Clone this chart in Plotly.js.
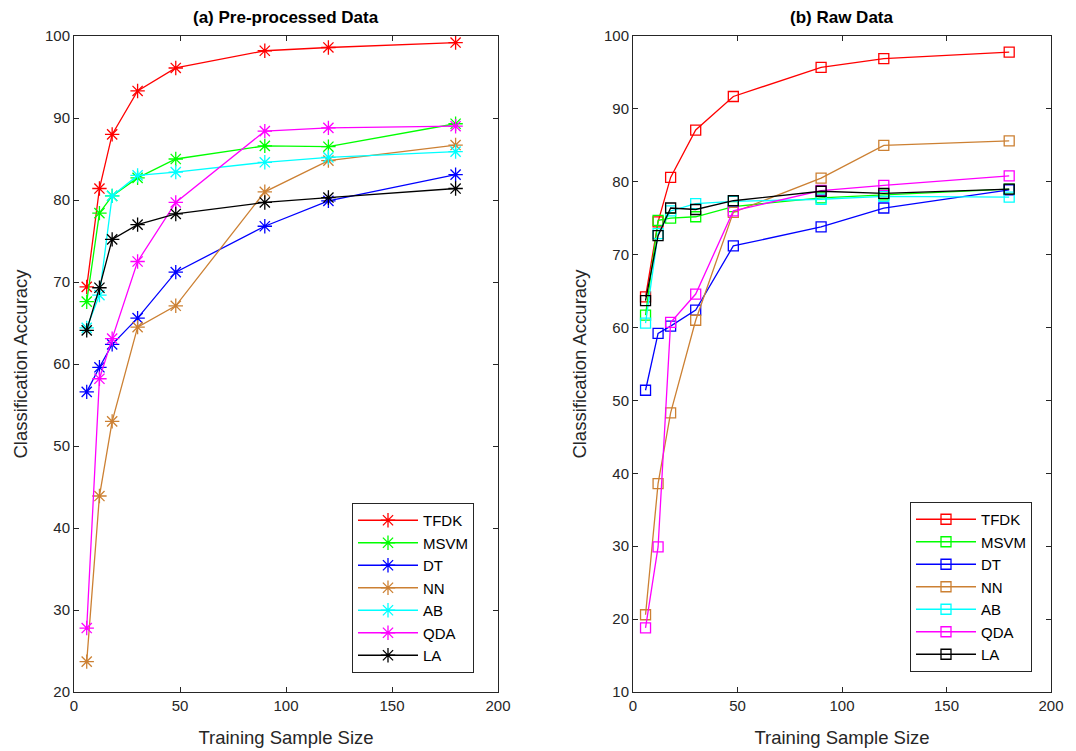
<!DOCTYPE html>
<html>
<head>
<meta charset="utf-8">
<script src="https://cdn.plot.ly/plotly-3.0.1.min.js"></script>
<style>html,body{margin:0;padding:0;background:#fff;}#chart{width:1076px;height:751px;}</style>
</head>
<body>
<div id="chart"></div>
<script>
const sampleSizes = [6, 12, 18, 30, 48, 90, 120, 180];
const methods = ['TFDK', 'MSVM', 'DT', 'NN', 'AB', 'QDA', 'LA'];
const colors = ['#ff0000', '#00ff00', '#0000ff', '#cc8033', '#00ffff', '#ff00ff', '#000000'];

// (a) Pre-processed data
const preTFDK = [69.4, 81.4, 88.0, 93.3, 96.1, 98.2, 98.6, 99.2];
const preMSVM = [67.6, 78.4, 80.5, 82.7, 85.0, 86.6, 86.5, 89.3];
const preDT   = [56.6, 59.6, 62.4, 65.6, 71.2, 76.8, 79.9, 83.1];
const preNN   = [23.7, 43.9, 53.0, 64.5, 67.1, 81.0, 84.8, 86.7];
const preAB   = [64.4, 68.4, 80.5, 83.0, 83.4, 84.6, 85.2, 85.9];
const preQDA  = [27.8, 58.2, 63.1, 72.5, 79.7, 88.4, 88.8, 89.0];
const preLA   = [64.1, 69.3, 75.2, 77.0, 78.3, 79.7, 80.3, 81.4];

// (b) Raw data
const rawTFDK = [64.2, 74.5, 80.6, 87.1, 91.7, 95.7, 96.9, 97.8];
const rawMSVM = [61.7, 74.7, 75.0, 75.2, 76.6, 77.8, 78.2, 79.0];
const rawDT   = [51.4, 59.2, 60.2, 62.4, 71.2, 73.8, 76.4, 78.9];
const rawNN   = [20.6, 38.6, 48.3, 61.0, 75.8, 80.5, 85.0, 85.6];
const rawAB   = [60.6, 72.9, 76.0, 77.0, 77.3, 77.6, 78.0, 77.9];
const rawQDA  = [18.8, 29.9, 60.7, 64.6, 76.0, 78.8, 79.5, 80.8];
const rawLA   = [63.7, 72.6, 76.4, 76.2, 77.4, 78.7, 78.4, 79.0];

const preSeries = [preTFDK, preMSVM, preDT, preNN, preAB, preQDA, preLA];
const rawSeries = [rawTFDK, rawMSVM, rawDT, rawNN, rawAB, rawQDA, rawLA];

const traces = [];
preSeries.forEach((ys, i) => {
  traces.push({
    x: sampleSizes, y: ys, name: methods[i], type: 'scatter', mode: 'lines+markers',
    xaxis: 'x', yaxis: 'y', legend: 'legend',
    line: {color: colors[i], width: 1.3},
    marker: {symbol: 'asterisk-open', size: 12, color: colors[i], line: {color: colors[i], width: 1.3}}
  });
});
rawSeries.forEach((ys, i) => {
  traces.push({
    x: sampleSizes, y: ys, name: methods[i], type: 'scatter', mode: 'lines+markers',
    xaxis: 'x2', yaxis: 'y2', legend: 'legend2',
    line: {color: colors[i], width: 1.3},
    marker: {symbol: 'square-open', size: 10, color: colors[i], line: {color: colors[i], width: 1.3}}
  });
});

const axisFont = {family: 'Liberation Sans, Arial, sans-serif', size: 15, color: '#262626'};
const titleFont = {family: 'Liberation Sans, Arial, sans-serif', size: 18.5, color: '#262626'};
function xAxis(domain, anchor) {
  return {
    domain: domain, anchor: anchor, range: [0, 200], tickvals: [0, 50, 100, 150, 200],
    ticks: 'inside', ticklen: 5, tickcolor: '#262626', tickwidth: 1,
    showline: true, linecolor: '#262626', linewidth: 1, mirror: 'ticks',
    showgrid: false, zeroline: false, tickfont: axisFont,
    title: {text: 'Training Sample Size', font: titleFont, standoff: 18}
  };
}
function yAxis(domain, anchor, lo) {
  const tv = [];
  for (let v = lo; v <= 100; v += 10) tv.push(v);
  return {
    domain: domain, anchor: anchor, range: [lo, 100], tickvals: tv,
    ticks: 'inside', ticklen: 5, tickcolor: '#262626', tickwidth: 1,
    showline: true, linecolor: '#262626', linewidth: 1, mirror: 'ticks',
    showgrid: false, zeroline: false, tickfont: axisFont,
    title: {text: 'Classification Accuracy', font: titleFont, standoff: 12}
  };
}
const yDom = [1 - 692 / 751, 1 - 36 / 751];
const legendCommon = {
  bgcolor: '#ffffff', bordercolor: '#262626', borderwidth: 1,
  font: {family: 'Liberation Sans, Arial, sans-serif', size: 15, color: '#000000'},
  xanchor: 'left', yanchor: 'top', xref: 'paper', yref: 'paper', tracegroupgap: 0,
  itemwidth: 60
};

const layout = {
  width: 1076, height: 751,
  margin: {l: 0, r: 0, t: 0, b: 0},
  paper_bgcolor: '#ffffff', plot_bgcolor: '#ffffff',
  showlegend: true,
  xaxis: xAxis([74 / 1076, 498 / 1076], 'y'),
  yaxis: yAxis(yDom, 'x', 20),
  xaxis2: xAxis([633 / 1076, 1051 / 1076], 'y2'),
  yaxis2: yAxis(yDom, 'x2', 10),
  legend: Object.assign({}, legendCommon, {x: 352 / 1076, y: 1 - 503 / 751}),
  legend2: Object.assign({}, legendCommon, {x: 910 / 1076, y: 1 - 502 / 751}),
  annotations: [
    {text: '<b>(a) Pre-processed Data</b>', xref: 'paper', yref: 'paper', x: 286 / 1076, y: 1 - 18 / 751,
     xanchor: 'center', yanchor: 'middle', showarrow: false, font: {family: 'Liberation Sans, Arial, sans-serif', size: 17, color: '#000'}},
    {text: '<b>(b) Raw Data</b>', xref: 'paper', yref: 'paper', x: 842 / 1076, y: 1 - 18 / 751,
     xanchor: 'center', yanchor: 'middle', showarrow: false, font: {family: 'Liberation Sans, Arial, sans-serif', size: 17, color: '#000'}}
  ]
};

Plotly.newPlot('chart', traces, layout, {displayModeBar: false, staticPlot: true});
</script>
</body>
</html>
